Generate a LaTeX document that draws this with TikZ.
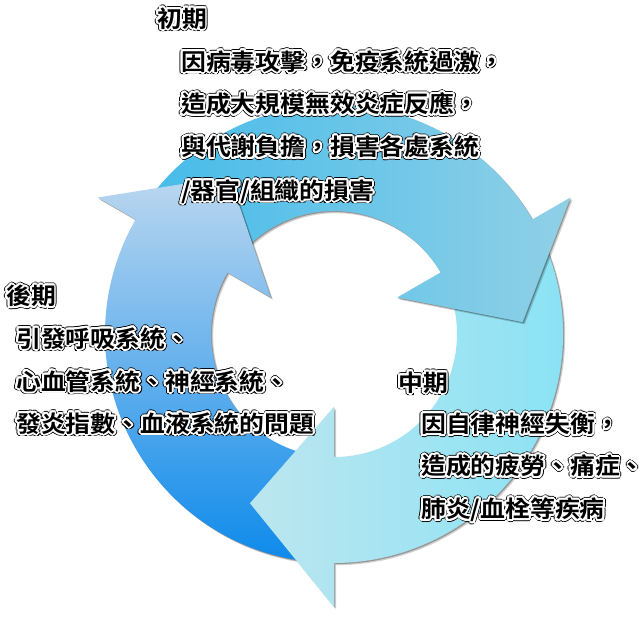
\documentclass[tikz,border=0pt]{standalone}
\usepackage{fontspec}
\newfontfamily\cjk{Noto Sans CJK TC}[UprightFont={* Bold},FakeStretch=1.08]
\definecolor{lTop}{HTML}{BBD7EF}
\definecolor{lBot}{HTML}{0D8AEB}
\definecolor{tLeft}{HTML}{45BBEA}
\definecolor{tRight}{HTML}{90D0E6}
\definecolor{rLeft}{HTML}{BCE6EF}
\definecolor{rRight}{HTML}{86E2F5}
\newcommand\ringcopies[3]{%
  \foreach \aa in {0,22.5,...,337.5}{%
    \pgfmathsetlengthmacro\dxx{#1*cos(\aa)}%
    \pgfmathsetlengthmacro\dyy{#1*sin(\aa)}%
    \makebox[0pt][l]{\hspace*{\dxx}\raisebox{\dyy}{\color{#2}#3}}}}
\newcommand\halo[1]{\ringcopies{2.7pt}{black}{#1}\ringcopies{1.9pt}{white}{#1}#1}
% arrow outline: #1 tail angle, #2 head base angle
\newcommand\arrowpath[2]{(#1:229) arc[start angle=#1, end angle=#2, radius=229]
  -- (#2:273) -- ({#2-26.4}:189) -- (#2:73) -- (#2:123)
  arc[start angle=#2, end angle=#1, radius=123] -- cycle}
\newcommand\headpath[1]{(#1:273) -- ({#1-26.4}:189) -- (#1:73) -- cycle}
\tikzset{
  txt/.style={anchor=base west, inner sep=0pt, text=black,
    font=\cjk\fontsize{23}{23}\selectfont},
  shadowA/.style={fill=black, opacity=0.18, xshift=2.2pt, yshift=-2.2pt},
  shadowB/.style={fill=black, opacity=0.28, xshift=1.1pt, yshift=-1.1pt},
  arrL/.style={top color=lTop, bottom color=lBot},
  arrT/.style={left color=tLeft, right color=tRight},
  arrR/.style={left color=rLeft, right color=rRight},
}
\begin{document}
\begin{tikzpicture}[x=1pt,y=1pt]
\useasboundingbox (0,0) rectangle (640,617);
\fill[white] (0,0) rectangle (640,617);
\coordinate (C) at (334,283);
\begin{scope}[shift={(C)}]
  % right / bottom arrow
  \path[shadowA] \arrowpath{26}{-90};
  \path[shadowB] \arrowpath{26}{-90};
  \path[arrR] \arrowpath{26}{-90};
  % top arrow
  \path[shadowA] \arrowpath{146}{30};
  \path[shadowB] \arrowpath{146}{30};
  \path[arrT] \arrowpath{146}{30};
  % left arrow
  \path[shadowA] \arrowpath{266}{150};
  \path[shadowB] \arrowpath{266}{150};
  \path[arrL] \arrowpath{266}{150};
  % head of the bottom arrow over the tail of the left arrow
  \begin{scope}
    \clip \headpath{-90};
    \path[arrR] \arrowpath{26}{-90};
  \end{scope}
\end{scope}
% texts: early stage
\node[txt] (e0) at (157,589.8) {\halo{初期}};
\node[txt] (e1) at (181,546.8) {\halo{因病毒攻擊，免疫系統過激，}};
\node[txt] (e2) at (181,504.3) {\halo{造成大規模無效炎症反應，}};
\node[txt] (e3) at (181,461.3) {\halo{與代謝負擔，損害各處系統}};
\node[txt] (e4) at (181,417.8) {\halo{/器官/組織的損害}};
% late stage
\node[txt] (l0) at (6,312.3) {\halo{後期}};
\node[txt] (l1) at (16,269.8) {\halo{引發呼吸系統、}};
\node[txt] (l2) at (16,226.8) {\halo{心血管系統、神經系統、}};
\node[txt] (l3) at (16,184.8) {\halo{發炎指數、血液系統的問題}};
% middle stage
\node[txt] (m0) at (398,225.8) {\halo{中期}};
\node[txt] (m1) at (421,184.3) {\halo{因自律神經失衡，}};
\node[txt] (m2) at (421,142.3) {\halo{造成的疲勞、痛症、}};
\node[txt] (m3) at (421,99.3) {\halo{肺炎/血栓等疾病}};
\end{tikzpicture}
\end{document}
